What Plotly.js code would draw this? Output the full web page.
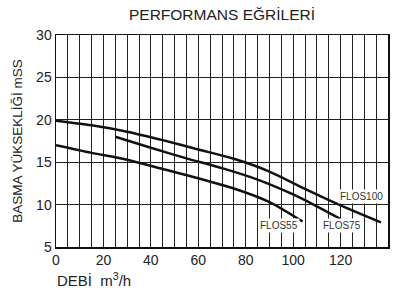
<!DOCTYPE html>
<html>
<head>
<meta charset="utf-8">
<script src="https://cdn.plot.ly/plotly-3.0.1.min.js"></script>
<style>html,body{margin:0;padding:0;background:#fff;}#chart{width:395px;height:292px;}</style>
</head>
<body>
<div id="chart"></div>
<script>
// Data (x: DEBİ m³/h, y: BASMA YÜKSEKLİĞİ mSS)
const flos100X = [0, 15, 30, 45, 60, 75, 90, 105, 120, 137];
const flos100Y = [19.9, 19.35, 18.6, 17.6, 16.5, 15.4, 13.9, 11.85, 9.9, 7.9];
const flos75X = [25, 40, 55, 70, 85, 100, 110, 120];
const flos75Y = [18.0, 16.7, 15.45, 14.3, 12.95, 11.2, 9.8, 8.3];
const flos55X = [0, 15, 30, 45, 60, 75, 90, 104];
const flos55Y = [17.0, 16.1, 15.3, 14.2, 13.1, 11.9, 10.3, 8.0];
const seriesNames = ["FLOS100", "FLOS75", "FLOS55"];
const labelX = [129, 120.6, 94];
const labelY = [11.0, 7.5, 7.5];
const xTicks = [0, 20, 40, 60, 80, 100, 120, 140];
const yTicks = [5, 10, 15, 20, 25, 30];

const FONT = "Arial, 'Liberation Sans', Helvetica, sans-serif";
const xs = [flos100X, flos75X, flos55X];
const ys = [flos100Y, flos75Y, flos55Y];

const traces = xs.map((x, i) => ({
  x: x, y: ys[i], name: seriesNames[i], type: "scatter", mode: "lines",
  line: {color: "#111", width: 2.5, shape: "spline", smoothing: 0.8},
  hoverinfo: "skip", showlegend: false
}));

const annotations = seriesNames.map((n, i) => ({
  x: labelX[i], y: labelY[i], xref: "x", yref: "y", text: n, showarrow: false,
  font: {family: FONT, size: 10, color: "#333"}, bgcolor: "#fff", borderpad: 1
}));
annotations.push({
  x: 0, y: 0, xref: "paper", yref: "paper", xanchor: "left", yanchor: "top",
  yshift: -21, xshift: -1, text: "DEBİ  m<sup>3</sup>/h", showarrow: false,
  font: {family: FONT, size: 15, color: "#222"}
});

const layout = {
  width: 395, height: 292,
  margin: {l: 56, r: 7, t: 35, b: 45},
  paper_bgcolor: "#fff", plot_bgcolor: "#fff",
  font: {family: FONT, color: "#222"},
  title: {text: "PERFORMANS EĞRİLERİ", font: {family: FONT, size: 15.5, color: "#222"},
          x: 0.562, xref: "container", xanchor: "center", y: 0.949, yref: "container", yanchor: "middle"},
  xaxis: {
    range: [0, 140], tickvals: xTicks, ticks: "", showgrid: true, gridcolor: "#222", gridwidth: 1,
    minor: {dtick: 5, tick0: 0, showgrid: true, gridcolor: "#222", gridwidth: 1, ticks: ""},
    showline: true, mirror: true, linecolor: "#111", linewidth: 1.5, zeroline: false,
    tickfont: {family: FONT, size: 14, color: "#222"}, fixedrange: true
  },
  yaxis: {
    range: [5, 30], tickvals: yTicks, ticks: "", showgrid: true, gridcolor: "#222", gridwidth: 1,
    showline: true, mirror: true, linecolor: "#111", linewidth: 1.5, zeroline: false,
    tickfont: {family: FONT, size: 14, color: "#222"}, fixedrange: true,
    title: {text: "BASMA YÜKSEKLİĞİ mSS", font: {family: FONT, size: 13.5, color: "#222"}, standoff: 10}
  },
  annotations: annotations
};

Plotly.newPlot("chart", traces, layout, {staticPlot: true, displayModeBar: false});
</script>
</body>
</html>
